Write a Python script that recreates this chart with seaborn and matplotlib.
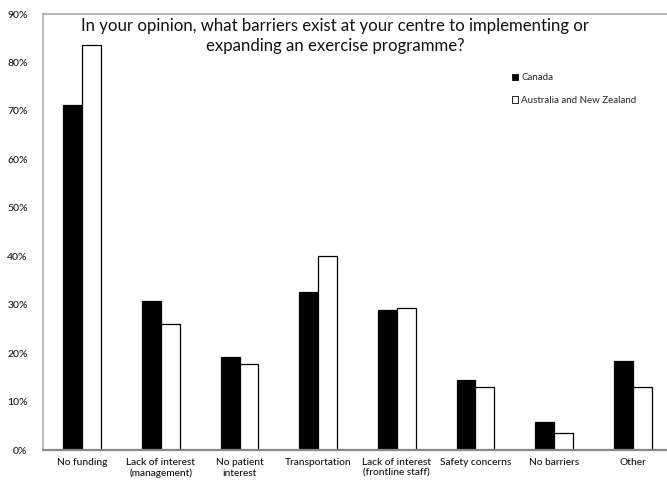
import pandas as pd
import matplotlib
matplotlib.use("Agg")
import matplotlib.pyplot as plt
import seaborn as sns
from matplotlib.ticker import FuncFormatter, MultipleLocator

categories = ["No funding", "Lack of interest\n(management)", "No patient\ninterest",
              "Transportation", "Lack of interest\n(frontline staff)", "Safety concerns",
              "No barriers", "Other"]
canada = [71.2, 30.8, 19.2, 32.7, 28.8, 14.4, 5.8, 18.3]
anz = [83.5, 26.0, 17.8, 40.1, 29.4, 13.0, 3.5, 13.0]
series = ["Canada", "Australia and New Zealand"]
title = ("In your opinion, what barriers exist at your centre to implementing or\n"
         "expanding an exercise programme?")

sns.set_theme(style="white")
plt.rcParams["font.family"] = ["Lato", "DejaVu Sans"]

df = pd.DataFrame({
    "Barrier": categories * 2,
    "Percent": canada + anz,
    "Country": [series[0]] * len(categories) + [series[1]] * len(categories),
})

fig = plt.figure(figsize=(6.67, 4.87), dpi=100)
ax = fig.add_axes([43 / 667, 1 - 450 / 487, 629 / 667, (450 - 14) / 487])

sns.barplot(data=df, x="Barrier", y="Percent", hue="Country", order=categories,
            hue_order=series, palette=["black", "white"], edgecolor="black",
            linewidth=0.9, width=0.48, gap=0, errorbar=None, ax=ax)

ax.set_xlim(-0.5, 7.5)
ax.set_ylim(0, 90)
ax.yaxis.set_major_locator(MultipleLocator(10))
ax.yaxis.set_major_formatter(FuncFormatter(lambda v, _: f"{v:.0f}%"))
ax.set_xlabel("")
ax.set_ylabel("")
ax.tick_params(axis="both", length=0, colors="#111111")
ax.tick_params(axis="y", labelsize=7.5, pad=11)
ax.tick_params(axis="x", labelsize=7.3, pad=6)
for lbl in ax.get_xticklabels() + ax.get_yticklabels():
    lbl.set_fontweight("medium")
for side in ["left", "top"]:
    ax.spines[side].set_color("#aaaaaa")
    ax.spines[side].set_linewidth(1.2)
ax.spines["right"].set_visible(False)
ax.spines["bottom"].set_color("#888888")
ax.spines["bottom"].set_linewidth(1.6)

ax.text(0.464, 0.99, title, transform=ax.transAxes, ha="center", va="top",
        fontsize=12.1, linespacing=1.3, color="#111111")

leg = ax.legend(loc="upper left", bbox_to_anchor=(0.731, 0.884), frameon=False,
                fontsize=7, handlelength=0.7, handleheight=0.7, handletextpad=0.3,
                labelspacing=1.4)
for h in leg.legend_handles:
    h.set_linewidth(0.6)

fig.savefig("out.png", dpi=100)
